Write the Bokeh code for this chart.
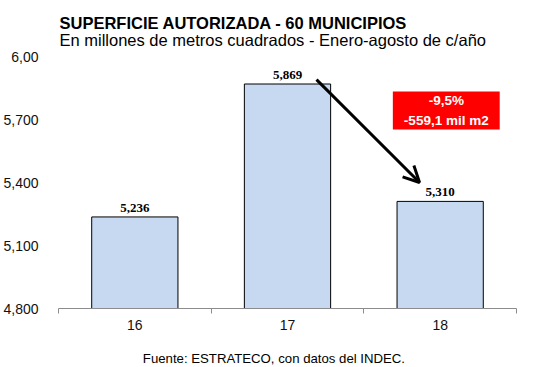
from bokeh.plotting import figure
from bokeh.layouts import column
from bokeh.models import (ColumnDataSource, FixedTicker, Label, Arrow, OpenHead, Range1d)
from bokeh.embed import file_html
from bokeh.resources import INLINE

# ---- data ----
categories = ["16", "17", "18"]
values = [5236, 5869, 5310]
value_labels = ["5,236", "5,869", "5,310"]
y_ticks = [4800, 5100, 5400, 5700, 6000]
y_tick_labels = ["4,800", "5,100", "5,400", "5,700", "6,00"]
title_text = "SUPERFICIE AUTORIZADA - 60 MUNICIPIOS"
subtitle_text = "En millones de metros cuadrados - Enero-agosto de c/año"
footer_text = "Fuente: ESTRATECO, con datos del INDEC."
note_lines = ["-9,5%", "-559,1 mil m2"]

xs = [i + 0.5 for i in range(len(categories))]

W = 532
H = 338
BOTTOM = 30
frame_h = H - BOTTOM            # frame spans the full top of the canvas
head_px = 56                    # space above the 6,00 level for the titles
y_lo, y_hi = 4800, 6000
y_top = y_hi + head_px * (y_hi - y_lo) / (frame_h - head_px)

p = figure(width=W, height=H, output_backend="svg", toolbar_location=None,
           x_range=Range1d(0, len(categories)), y_range=Range1d(y_lo, y_top),
           min_border_left=48, min_border_right=16, min_border_top=0, min_border_bottom=BOTTOM)
p.outline_line_color = None
p.grid.visible = False
p.background_fill_color = "white"

src = ColumnDataSource(dict(x=xs, top=values, lab=value_labels))
p.vbar(x="x", top="top", bottom=y_lo, width=0.565, source=src,
       fill_color="#C6D9F1", line_color="black", line_width=1)

p.text(x="x", y="top", text="lab", source=src, text_align="center",
       text_baseline="bottom", y_offset=-5, text_font_size="13px",
       text_font="Liberation Serif", text_font_style="bold", text_color="black")

# y axis
p.yaxis.ticker = FixedTicker(ticks=y_ticks)
p.yaxis.major_label_overrides = {t: l for t, l in zip(y_ticks, y_tick_labels)}
p.yaxis.axis_line_color = None
p.yaxis.major_tick_line_color = None
p.yaxis.minor_tick_line_color = None
p.yaxis.major_label_text_font = "Liberation Sans"
p.yaxis.major_label_text_font_size = "14px"
p.yaxis.major_label_text_color = "#111111"
p.yaxis.major_label_standoff = 14

# x axis
p.xaxis.ticker = FixedTicker(ticks=xs, minor_ticks=list(range(len(categories) + 1)))
p.xaxis.major_label_overrides = {x: c for x, c in zip(xs, categories)}
p.xaxis.axis_line_color = "#8c8c8c"
p.xaxis.major_tick_line_color = None
p.xaxis.minor_tick_line_color = "#8c8c8c"
p.xaxis.minor_tick_in = 0
p.xaxis.minor_tick_out = 5
p.xaxis.major_label_text_font = "Liberation Sans"
p.xaxis.major_label_text_font_size = "14px"
p.xaxis.major_label_text_color = "#111111"
p.xaxis.major_label_standoff = 5

# arrow from bar 17 to bar 18
p.add_layout(Arrow(end=OpenHead(size=16, line_width=3, line_color="black"),
                   x_start=xs[1] + 0.19, y_start=values[1] + 21,
                   x_end=xs[2] - 0.135, y_end=values[2] + 90,
                   line_width=3, line_color="black"))

# red note box
p.quad(left=[xs[2] - 0.31], right=[xs[2] + 0.39], top=[5833], bottom=[5652],
       fill_color="#FF0000", line_color=None)
for i, t in enumerate(note_lines):
    p.add_layout(Label(x=xs[2] + 0.04, y=5790 - i * 95, text=t, text_align="center",
                       text_baseline="middle", text_color="white", text_font="Liberation Sans",
                       text_font_style="bold", text_font_size="13.5px"))

# titles (inside the frame's top strip)
p.add_layout(Label(x=1, y=frame_h - 22.5, x_units="screen", y_units="screen", text=title_text,
                   text_font="Liberation Sans", text_font_style="bold", text_font_size="16.5px",
                   text_baseline="alphabetic", text_color="black"))
p.add_layout(Label(x=1, y=frame_h - 39.5, x_units="screen", y_units="screen", text=subtitle_text,
                   text_font="Liberation Sans", text_font_size="16.5px",
                   text_baseline="alphabetic", text_color="black"))

# footer strip
FH = 29
f = figure(width=W, height=FH, output_backend="svg", toolbar_location=None,
           x_range=Range1d(0, W), y_range=Range1d(0, FH),
           x_axis_location=None, y_axis_location=None,
           min_border_left=0, min_border_right=0, min_border_top=0, min_border_bottom=0)
f.grid.visible = False
f.outline_line_color = None
f.add_layout(Label(x=98, y=9, text=footer_text,
                   text_font="Liberation Sans", text_font_size="13.2px",
                   text_baseline="alphabetic", text_color="black"))

layout = column(p, f, spacing=0)
open("out.html", "w").write(file_html(layout, INLINE))
